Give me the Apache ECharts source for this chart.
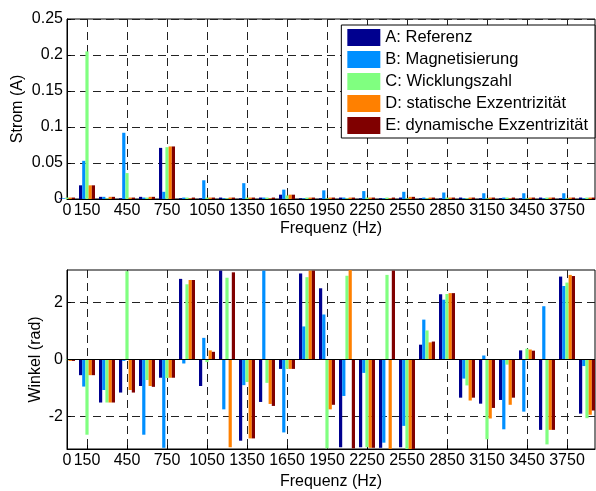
<!DOCTYPE html>
<html>
<head>
<meta charset="utf-8">
<script src="https://cdn.jsdelivr.net/npm/echarts@6/dist/echarts.min.js"></script>
<style>
html, body { margin: 0; padding: 0; background: #fff; }
#chart { width: 596px; height: 491px; }
</style>
</head>
<body>
<div id="chart"></div>
<script>
// frequencies of the bar groups (Hz)
var freq = [0, 150, 300, 450, 600, 750, 900, 1050, 1200, 1350, 1500, 1650, 1800, 1950,
            2100, 2250, 2400, 2550, 2700, 2850, 3000, 3150, 3300, 3450, 3600, 3750, 3900];
var names = ['A: Referenz', 'B: Magnetisierung', 'C: Wicklungszahl',
             'D: statische Exzentrizität', 'E: dynamische Exzentrizität'];
var colors = ['#00008F', '#008FFF', '#80FF80', '#FF8000', '#800000'];
var xLabels = [0, 150, 450, 750, 1050, 1350, 1650, 1950, 2250, 2550, 2850, 3150, 3450, 3750];
var xTicks = [150, 450, 750, 1050, 1350, 1650, 1950, 2250, 2550, 2850, 3150, 3450, 3750];
var winkelTicks = [-2, 0, 2];

// Strom (A)
var stromA = [0.001, 0.019, 0.003, 0.001, 0.003, 0.071, 0.001, 0.001, 0.002, 0.001, 0.002, 0.006, 0.001, 0.001,
              0.002, 0.001, 0.001, 0.002, 0.001, 0.001, 0.002, 0.001, 0.001, 0.001, 0.002, 0.001, 0.002];
var stromB = [0.001, 0.053, 0.003, 0.092, 0.002, 0.010, 0.002, 0.026, 0.001, 0.022, 0.002, 0.013, 0.001, 0.012,
              0.002, 0.011, 0.001, 0.010, 0.002, 0.009, 0.001, 0.008, 0.002, 0.008, 0.001, 0.008, 0.001];
var stromC = [0.002, 0.205, 0.001, 0.036, 0.002, 0.072, 0.002, 0.002, 0.001, 0.002, 0.002, 0.005, 0.002, 0.001,
              0.001, 0.002, 0.002, 0.001, 0.001, 0.002, 0.001, 0.001, 0.002, 0.001, 0.002, 0.001, 0.002];
var stromD = [0.002, 0.019, 0.003, 0.002, 0.003, 0.073, 0.001, 0.002, 0.002, 0.002, 0.001, 0.006, 0.002, 0.002,
              0.002, 0.002, 0.001, 0.003, 0.002, 0.002, 0.002, 0.002, 0.001, 0.002, 0.002, 0.002, 0.002];
var stromE = [0.002, 0.019, 0.003, 0.002, 0.003, 0.073, 0.002, 0.002, 0.002, 0.002, 0.002, 0.006, 0.002, 0.002,
              0.002, 0.002, 0.002, 0.003, 0.002, 0.002, 0.002, 0.002, 0.002, 0.002, 0.002, 0.002, 0.002];

// Winkel (rad)
var winkelA = [0, -0.55, -1.51, -1.16, -0.93, -0.64, 2.83, -0.93, 3.12, -2.85, -1.49, -0.33, 3.02, 2.50,
               -3.08, -3.08, -3.10, -3.08, 0.52, 2.29, -1.34, -1.55, -1.42, 0.32, -2.47, 2.91, -1.90];
var winkelB = [0, -0.95, -1.07, -0.05, -2.64, -3.10, -0.14, 0.76, -1.75, -0.90, 3.12, -2.56, 1.16, 1.58,
               -1.28, -0.47, -2.92, -2.33, 1.40, 2.10, -0.67, 0.14, -2.45, -1.83, 1.87, 2.58, -0.23];
var winkelC = [-0.02, -2.64, -1.51, 3.10, -0.72, -0.65, 2.64, -0.09, 2.87, -0.79, -0.82, -0.33, 2.89, -3.12,
               2.94, -3.08, 2.97, -3.14, 1.02, 2.30, -0.91, -2.80, -0.18, 0.38, -2.98, 2.70, -2.06];
var winkelD = [-0.05, -0.55, -1.51, -1.07, -0.93, -0.64, 2.79, 0.32, -3.08, -2.77, -1.56, -0.33, 3.12, -1.75,
               3.14, -3.10, -3.14, -3.14, 0.60, 2.33, -1.44, -2.07, -1.59, 0.35, -2.47, 2.97, -1.94];
var winkelE = [-0.05, -0.55, -1.51, -1.16, -0.96, -0.64, 2.79, 0.27, 3.06, -2.77, -1.63, -0.33, 3.12, -1.59,
               -3.12, -3.10, 3.12, -3.14, 0.63, 2.33, -1.34, -1.70, -1.34, 0.31, -2.47, 2.93, -1.79];

var font = 'Liberation Sans, Arial, sans-serif';
var stromData = [stromA, stromB, stromC, stromD, stromE];
var winkelData = [winkelA, winkelB, winkelC, winkelD, winkelE];

function pairs(vals) {
    return vals.map(function (v, i) { return [freq[i], v]; });
}

function xAxisOpt(gridIndex, nameGap) {
    return {
        type: 'value',
        gridIndex: gridIndex,
        min: 0,
        max: 3960,
        name: 'Frequenz (Hz)',
        nameLocation: 'middle',
        nameGap: nameGap,
        nameMoveOverlap: false,
        nameTextStyle: { color: '#000', fontSize: 16, fontFamily: font },
        axisLine: { onZero: false, lineStyle: { color: '#000' } },
        axisTick: { inside: true, length: 4, customValues: xTicks, lineStyle: { color: '#000' } },
        axisLabel: {
            customValues: xLabels,
            formatter: function (v) { return String(v); },
            color: '#000', fontSize: 16, fontFamily: font, margin: 4
        },
        splitLine: { show: true, lineStyle: { color: '#222', type: [8, 5], width: 1 } }
    };
}

var series = [];
for (var i = 0; i < 5; i++) {
    series.push({
        name: names[i],
        type: 'bar',
        xAxisIndex: 0,
        yAxisIndex: 0,
        barGap: '0%',
        barCategoryGap: '20%',
        itemStyle: { color: colors[i] },
        data: pairs(stromData[i])
    });
}
for (var j = 0; j < 5; j++) {
    var s = {
        name: names[j],
        type: 'bar',
        xAxisIndex: 1,
        yAxisIndex: 1,
        barGap: '0%',
        barCategoryGap: '20%',
        itemStyle: { color: colors[j] },
        data: pairs(winkelData[j])
    };
    if (j === 4) {
        // baseline at 0 like matlab's bar
        s.markLine = {
            silent: true,
            symbol: 'none',
            label: { show: false },
            lineStyle: { color: '#000', type: 'solid', width: 1 },
            data: [{ yAxis: 0 }]
        };
    }
    series.push(s);
}

var myChart = echarts.init(document.getElementById('chart'));
var option = {
    animation: false,
    backgroundColor: '#fff',
    textStyle: { fontFamily: font },
    grid: [
        { left: 67, right: 1, top: 19, height: 180, show: true, borderColor: '#000', borderWidth: 1 },
        { left: 67, right: 1, top: 270, height: 180, show: true, borderColor: '#000', borderWidth: 1 }
    ],
    legend: {
        data: names,
        orient: 'vertical',
        right: 1,
        top: 25,
        icon: 'rect',
        itemWidth: 33,
        itemHeight: 17,
        itemGap: 5,
        padding: [4, 7, 4, 6],
        backgroundColor: '#fff',
        borderColor: '#000',
        borderWidth: 1,
        textStyle: { color: '#000', fontSize: 16.5, fontFamily: font }
    },
    xAxis: [xAxisOpt(0, 22), xAxisOpt(1, 25)],
    yAxis: [
        {
            type: 'value',
            gridIndex: 0,
            min: 0,
            max: 0.25,
            interval: 0.05,
            name: 'Strom (A)',
            nameLocation: 'middle',
            nameGap: 41,
            nameMoveOverlap: false,
            nameTextStyle: { color: '#000', fontSize: 16, fontFamily: font },
            axisLine: { show: true, lineStyle: { color: '#000' } },
            axisTick: { show: true, inside: true, length: 4, lineStyle: { color: '#000' } },
            axisLabel: { color: '#000', fontSize: 16, fontFamily: font, margin: 4 },
            splitLine: { show: true, lineStyle: { color: '#222', type: [8, 5], width: 1 } }
        },
        {
            type: 'value',
            gridIndex: 1,
            min: -Math.PI,
            max: Math.PI,
            name: 'Winkel (rad)',
            nameLocation: 'middle',
            nameGap: 23,
            nameMoveOverlap: false,
            nameTextStyle: { color: '#000', fontSize: 16, fontFamily: font },
            axisLine: { show: true, onZero: false, lineStyle: { color: '#000' } },
            axisTick: { show: true, inside: true, length: 4, customValues: winkelTicks, lineStyle: { color: '#000' } },
            axisLabel: { customValues: winkelTicks, color: '#000', fontSize: 16, fontFamily: font, margin: 4 },
            splitLine: { show: true, lineStyle: { color: '#222', type: [8, 5], width: 1 } }
        }
    ],
    series: series
};
myChart.setOption(option);
</script>
</body>
</html>
